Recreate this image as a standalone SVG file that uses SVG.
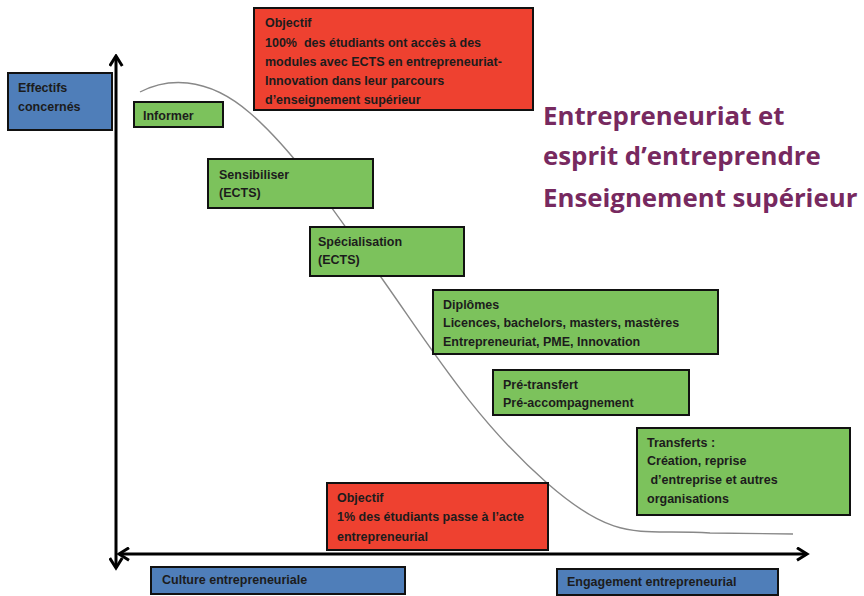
<svg xmlns="http://www.w3.org/2000/svg" width="864" height="596" viewBox="0 0 864 596">
<defs>
<marker id="chev" viewBox="0 0 12 12" refX="10" refY="6" markerWidth="5" markerHeight="5" orient="auto-start-reverse" markerUnits="strokeWidth">
<polyline points="2,1 10,6 2,11" fill="none" stroke="#000" stroke-width="2.4"/>
</marker>
</defs>
<style>
.box{stroke:#111;stroke-width:2}
.red{fill:#EE4130}
.green{fill:#7CC25C}
.blue{fill:#4F7EB9}
.t{font-family:"Liberation Sans","DejaVu Sans",sans-serif;font-size:12.5px;font-weight:bold;fill:#1c1c1c}
.title{font-family:"Open Sans","Liberation Sans",sans-serif;font-size:25.8px;font-weight:bold;fill:#77295F}
.axis{stroke:#000;stroke-width:3;fill:none}
.curve{stroke:#888;stroke-width:1.4;fill:none}
</style>
<rect width="864" height="596" fill="#fff"/>
<g id="connectors">
<path class="curve" d="M140,92 C165,79 205,74 250,113 S 335,212 383,280 S 475,420 547,483 S 640,528 710,533 L793,534"/>
<line class="axis" x1="116" y1="568" x2="116" y2="56" marker-start="url(#chev)" marker-end="url(#chev)"/>
<line class="axis" x1="119" y1="554" x2="807" y2="554" marker-start="url(#chev)" marker-end="url(#chev)"/>
</g>
<g id="effectifs">
<rect class="box blue" x="8" y="73" width="104" height="57"/>
<text class="t" x="18" y="92">Effectifs</text>
<text class="t" x="18" y="111">concernés</text>
</g>
<g id="informer">
<rect class="box green" x="134" y="102" width="89" height="25"/>
<text class="t" x="143" y="120">Informer</text>
</g>
<g id="objectif-top">
<rect class="box red" x="254" y="8" width="279" height="102"/>
<text class="t" x="265" y="27">Objectif</text>
<text class="t" x="265" y="47" xml:space="preserve">100%  des étudiants ont accès à des</text>
<text class="t" x="265" y="66">modules avec ECTS en entrepreneuriat-</text>
<text class="t" x="265" y="85">Innovation dans leur parcours</text>
<text class="t" x="265" y="104">d’enseignement supérieur</text>
</g>
<g id="title">
<text class="title" x="543" y="125">Entrepreneuriat et</text>
<text class="title" x="543" y="165">esprit d’entreprendre</text>
<text class="title" x="543" y="207">Enseignement supérieur</text>
</g>
<g id="sensibiliser">
<rect class="box green" x="208" y="159" width="165" height="49"/>
<text class="t" x="219" y="179">Sensibiliser</text>
<text class="t" x="219" y="197">(ECTS)</text>
</g>
<g id="specialisation">
<rect class="box green" x="310" y="227" width="154" height="49"/>
<text class="t" x="318" y="246">Spécialisation</text>
<text class="t" x="318" y="264">(ECTS)</text>
</g>
<g id="diplomes">
<rect class="box green" x="433" y="290" width="285" height="64"/>
<text class="t" x="443" y="309">Diplômes</text>
<text class="t" x="443" y="327">Licences, bachelors, masters, mastères</text>
<text class="t" x="443" y="346">Entrepreneuriat, PME, Innovation</text>
</g>
<g id="pretransfert">
<rect class="box green" x="493" y="370" width="196" height="45"/>
<text class="t" x="503" y="389">Pré-transfert</text>
<text class="t" x="503" y="407">Pré-accompagnement</text>
</g>
<g id="transferts">
<rect class="box green" x="637" y="428" width="213" height="87"/>
<text class="t" x="647" y="447">Transferts :</text>
<text class="t" x="647" y="465">Création, reprise</text>
<text class="t" x="647" y="484" xml:space="preserve"> d’entreprise et autres</text>
<text class="t" x="647" y="503">organisations</text>
</g>
<g id="objectif-bottom">
<rect class="box red" x="327" y="483" width="221" height="67"/>
<text class="t" x="337" y="502">Objectif</text>
<text class="t" x="337" y="521">1% des étudiants passe à l’acte</text>
<text class="t" x="337" y="541">entrepreneurial</text>
</g>
<g id="culture">
<rect class="box blue" x="151" y="567" width="254" height="27"/>
<text class="t" x="162" y="584">Culture entrepreneuriale</text>
</g>
<g id="engagement">
<rect class="box blue" x="557" y="569" width="221" height="26"/>
<text class="t" x="567" y="586">Engagement entrepreneurial</text>
</g>
</svg>
